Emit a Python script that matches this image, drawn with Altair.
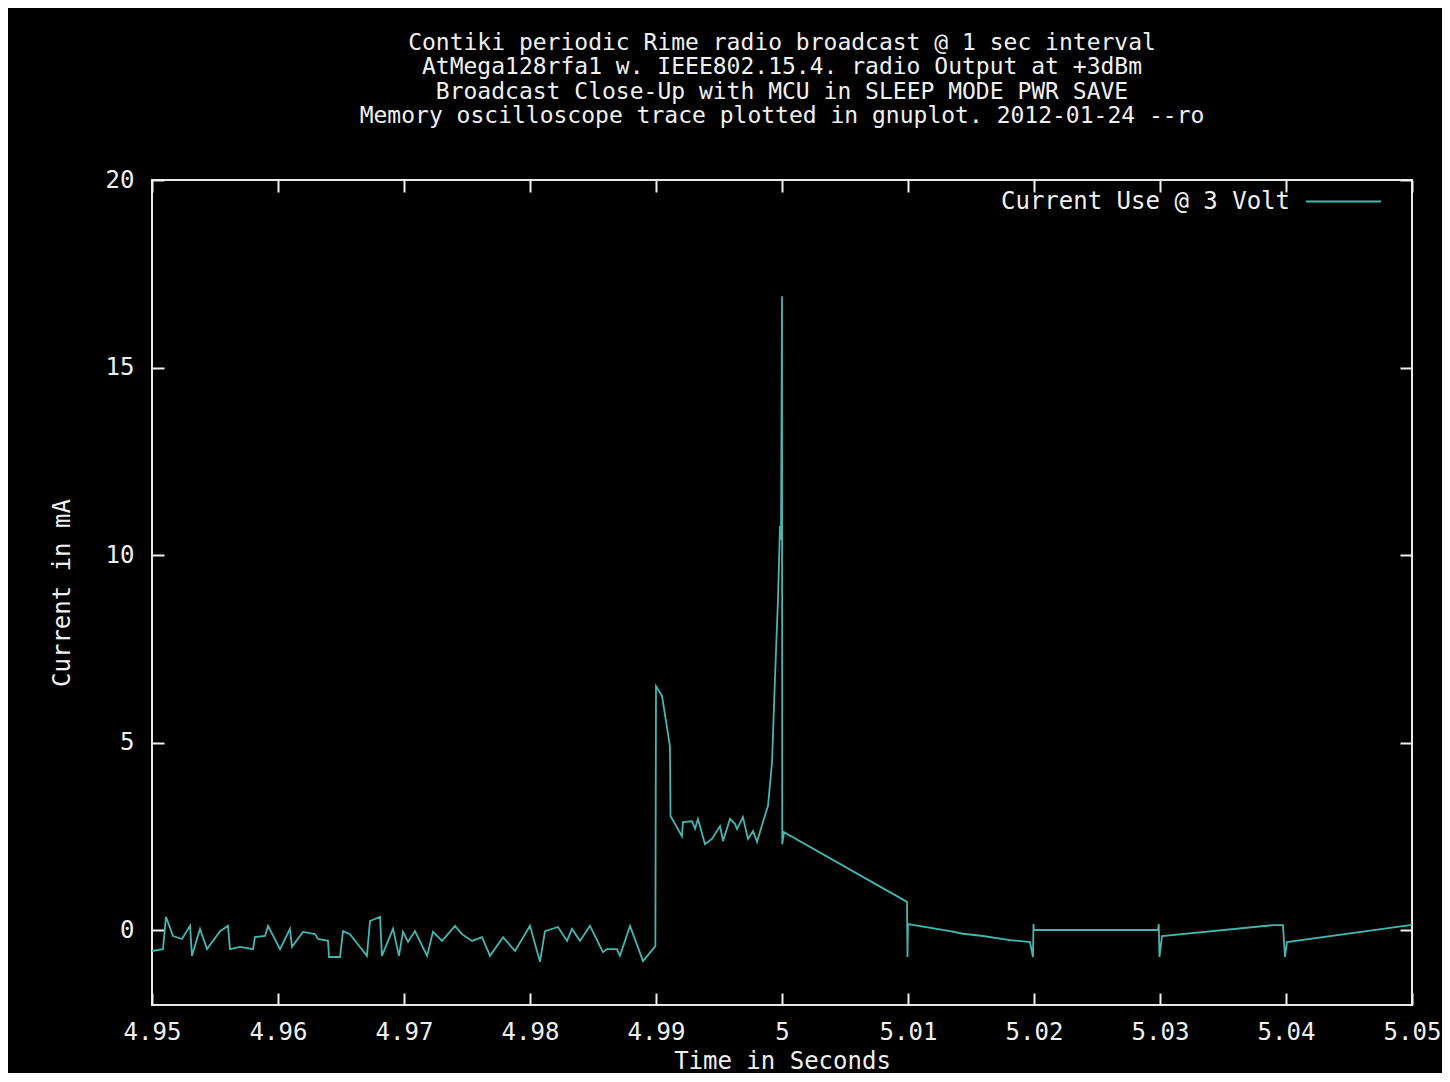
import altair as alt
import pandas as pd

FONT = "DejaVu Sans Mono"
TXT = "#f0f0f0"
TRACE = "#45b5b0"

TITLE_LINES = [
    "Contiki periodic Rime radio broadcast @ 1 sec interval",
    "AtMega128rfa1 w. IEEE802.15.4. radio Output at +3dBm",
    "Broadcast Close-Up with MCU in SLEEP MODE PWR SAVE",
    "Memory oscilloscope trace plotted in gnuplot. 2012-01-24 --ro",
]
SERIES = "Current Use @ 3 Volt"
X_TITLE = "Time in Seconds"
Y_TITLE = "Current in mA"
X_TICKS = [4.95, 4.96, 4.97, 4.98, 4.99, 5.0, 5.01, 5.02, 5.03, 5.04, 5.05]
Y_TICKS = [0, 5, 10, 15, 20]
X_DOMAIN = [4.95, 5.05]
Y_DOMAIN = [-2, 20]

time_s = [
    4.95000, 4.95087, 4.95111, 4.95167, 4.95238, 4.95302, 4.95317, 4.95381, 4.95437, 4.95540,
    4.95603, 4.95619, 4.95698, 4.95802, 4.95817, 4.95897, 4.95921, 4.96016, 4.96095, 4.96111,
    4.96198, 4.96294, 4.96317, 4.96397, 4.96405, 4.96492, 4.96516, 4.96571, 4.96706, 4.96730,
    4.96810, 4.96825, 4.96913, 4.96960, 4.96992, 4.97032, 4.97087, 4.97183, 4.97230, 4.97302,
    4.97405, 4.97460, 4.97540, 4.97619, 4.97683, 4.97786, 4.97881, 4.98000, 4.98079, 4.98119,
    4.98222, 4.98294, 4.98333, 4.98397, 4.98476, 4.98579, 4.98611, 4.98690, 4.98714, 4.98794,
    4.98897, 4.98995,
    4.99000, 4.99048, 4.99111, 4.99115, 4.99206, 4.99214, 4.99286, 4.99310, 4.99333, 4.99389,
    4.99444, 4.99508, 4.99532, 4.99587, 4.99627, 4.99643, 4.99690, 4.99730, 4.99770, 4.99802,
    4.99849, 4.99889, 4.99921, 4.99944, 4.99968, 4.99984, 4.99992, 5.00000, 5.00002, 5.00016,
    5.00992, 5.00996, 5.01000, 5.01333, 5.01437, 5.01595, 5.01810, 5.01968, 5.01992, 5.01996, 5.02000,
    5.02984, 5.02990, 5.02996, 5.03016, 5.03897, 5.03976, 5.03992, 5.04008, 5.04984, 5.05000,
]

current_ma = [
    -0.56, -0.51, 0.35, -0.16, -0.24, 0.11, -0.69, 0.03, -0.51, -0.03,
    0.11, -0.51, -0.45, -0.51, -0.19, -0.16, 0.11, -0.51, 0.03, -0.45,
    -0.05, -0.11, -0.24, -0.29, -0.72, -0.72, -0.03, -0.11, -0.69, 0.24,
    0.35, -0.69, 0.03, -0.69, -0.05, -0.32, -0.03, -0.69, -0.05, -0.29,
    0.11, -0.11, -0.29, -0.19, -0.69, -0.19, -0.56, 0.11, -0.85, -0.03,
    0.08, -0.29, 0.03, -0.29, 0.11, -0.59, -0.51, -0.51, -0.69, 0.11,
    -0.83, -0.43,
    6.50, 6.24, 4.90, 3.04, 2.50, 2.88, 2.90, 2.70, 2.96, 2.29,
    2.43, 2.77, 2.37, 2.96, 2.83, 2.69, 3.01, 2.43, 2.64, 2.35,
    2.88, 3.31, 4.48, 6.69, 8.80, 10.77, 10.40, 16.90, 2.29, 2.61,
    0.75, -0.72, 0.16, -0.03, -0.10, -0.16, -0.27, -0.32, -0.72, 0.16, 0.00,
    0.00, 0.16, -0.72, -0.16, 0.13, 0.13, -0.72, -0.32, 0.13, 0.15,
]

df = pd.DataFrame({
    "i": list(range(len(time_s))),
    "t": time_s,
    "v": current_ma,
    "series": [SERIES] * len(time_s),
})

W, H = 1260, 825
xscale = alt.Scale(domain=X_DOMAIN, nice=False, zero=False)
yscale = alt.Scale(domain=Y_DOMAIN, nice=False, zero=False)

base = alt.Chart(df)

x_label_axis = alt.Axis(
    orient="bottom", values=X_TICKS, format="~g", ticks=False, tickSize=0,
    domain=False, grid=False, labelFlush=False, labelPadding=15,
    labelFont=FONT, labelFontSize=24, labelColor=TXT,
    title=X_TITLE, titleFont=FONT, titleFontSize=24, titleFontWeight="normal",
    titleColor=TXT, titleX=W / 2, titleY=56, titleBaseline="middle", titleAlign="center",
)
y_label_axis = alt.Axis(
    orient="left", values=Y_TICKS, ticks=False, tickSize=0,
    domain=False, grid=False, labelFlush=False, labelPadding=18,
    labelFont=FONT, labelFontSize=24, labelColor=TXT,
    title=Y_TITLE, titleFont=FONT, titleFontSize=24, titleFontWeight="normal",
    titleColor=TXT, titleX=-90, titleY=H / 2, titleAngle=-90,
    titleBaseline="middle", titleAlign="center",
)

line = base.mark_line(strokeWidth=1.8, clip=True).encode(
    x=alt.X("t:Q", scale=xscale, axis=x_label_axis),
    y=alt.Y("v:Q", scale=yscale, axis=y_label_axis),
    color=alt.Color(
        "series:N",
        scale=alt.Scale(domain=[SERIES], range=[TRACE]),
        legend=alt.Legend(
            orient="none", legendX=1153, legendY=-17, title=None, padding=0,
            symbolType="stroke", symbolSize=5625, symbolStrokeWidth=2,
            labelAlign="right", labelOffset={"expr": "-92"}, labelLimit=0,
            labelFont=FONT, labelFontSize=24, labelColor=TXT,
        ),
    ),
    order=alt.Order("i:Q"),
)


def tick_axis(orient, values):
    return alt.Axis(
        orient=orient, values=values, labels=False, domain=False, grid=False,
        ticks=True, tickSize=12, tickWidth=2, tickColor=TXT,
        offset={"expr": "-12"}, title=None,
    )


ticks_a = base.mark_line(strokeOpacity=0).encode(
    x=alt.X("t:Q", scale=xscale, axis=tick_axis("bottom", X_TICKS)),
    y=alt.Y("v:Q", scale=yscale, axis=tick_axis("right", Y_TICKS)),
    order=alt.Order("i:Q"),
)
ticks_b = base.mark_line(strokeOpacity=0).encode(
    x=alt.X("t:Q", scale=xscale, axis=tick_axis("top", X_TICKS)),
    y=alt.Y("v:Q", scale=yscale, axis=tick_axis("left", Y_TICKS)),
    order=alt.Order("i:Q"),
)

chart = (
    alt.layer(ticks_a, ticks_b, line)
    .resolve_axis(x="independent", y="independent")
    .properties(
        width=W,
        height=H,
        background="black",
        autosize=alt.AutoSizeParams(type="none"),
        padding={"left": 144, "top": 172, "right": 30, "bottom": 68},
        title=alt.TitleParams(
            text=TITLE_LINES, anchor="middle", frame="group", font=FONT,
            fontSize=23, fontWeight="normal", color=TXT, lineHeight=24.5, offset=35,
        ),
    )
    .configure_view(stroke="#e8e8e8", strokeWidth=2)
)

chart.save("out.html", embed_options={"renderer": "svg", "actions": False})
